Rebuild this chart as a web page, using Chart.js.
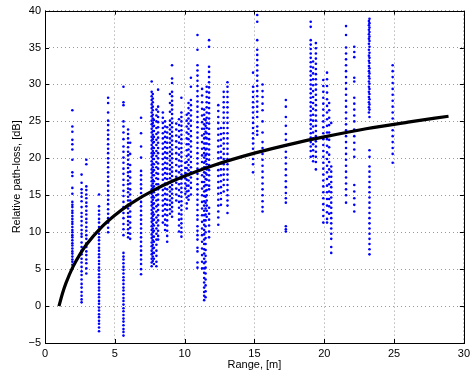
<!DOCTYPE html>
<html>
<head>
<meta charset="utf-8">
<script src="https://cdn.jsdelivr.net/npm/chart.js@4"></script>
<style>
  body { margin: 0; background: #fff; }
  canvas { display: block; }
</style>
</head>
<body>
<canvas id="lossChart" width="474" height="372"></canvas>
<script>
// measurement columns: range [m] of each column and the path-loss values [dB] read in it
const colRange = [1.96, 2.62, 2.96, 3.87, 4.52, 5.62, 5.95, 6.1, 6.88, 7.64,
    7.8, 8.1, 8.44, 8.75, 9.1, 9.4, 9.77, 10.05, 10.28, 10.45,
    10.92, 11.4, 11.58, 11.75, 12.41, 12.8, 13.07, 14.9, 15.2, 15.58,
    17.25, 19.03, 19.4, 19.93, 20.2, 20.5, 21.56, 22.15, 23.24, 24.9,
    7.72, 7.98, 8.6, 8.95, 9.6, 10.15, 11.25, 11.5, 12.6, 19.2,
    23.2, 20.35];

const colLoss = [
    [26.5, 24.3, 23.6, 22.5, 21.9, 21.2, 19.8, 18.1, 17.6, 16.0, 15.2, 14.1, 13.7, 13.4, 12.9, 12.6, 12.2, 11.8, 11.4, 11.1, 10.7, 10.3, 10.0, 9.6, 9.3, 8.9, 8.5, 8.2, 7.8, 7.4, 7.1, 6.7, 6.3, 6.0, 5.6, 5.1],
    [17.8, 16.7, 15.8, 15.3, 14.8, 14.2, 13.4, 12.6, 12.1, 11.5, 10.9, 10.3, 9.8, 9.4, 8.6, 8.0, 7.5, 7.0, 6.4, 5.9, 5.3, 4.7, 4.2, 3.6, 3.0, 2.5, 1.9, 1.4, 0.9, 0.5],
    [19.8, 19.2, 16.2, 15.7, 15.1, 14.6, 14.0, 13.5, 12.9, 12.4, 11.8, 11.3, 10.7, 10.2, 9.6, 9.1, 8.5, 8.0, 7.4, 6.9, 6.3, 5.8, 5.1, 4.4],
    [15.1, 13.5, 12.9, 12.4, 11.8, 11.3, 10.7, 10.2, 9.8, 9.3, 8.9, 8.4, 7.9, 7.5, 7.0, 6.6, 6.1, 5.7, 5.2, 4.8, 4.3, 3.9, 3.4, 3.0, 2.5, 2.1, 1.6, 1.2, 0.7, 0.3, -0.2, -0.6, -1.1, -1.5, -2.0, -2.4, -2.9, -3.4],
    [28.2, 27.5, 26.2, 25.1, 24.5, 23.8, 23.2, 22.6, 21.9, 21.3, 20.7, 20.0, 19.4, 18.8, 18.1, 17.5, 16.9, 16.3, 15.6, 15.0, 14.4, 13.8, 13.1, 12.5, 11.9, 11.3, 10.6, 10.0],
    [29.7, 27.6, 27.2, 25.0, 24.3, 23.5, 22.6, 21.6, 20.9, 20.1, 19.4, 18.6, 17.9, 17.1, 16.4, 15.6, 14.9, 14.1, 13.4, 12.6, 11.9, 11.1, 10.4, 9.6, 7.2, 6.7, 6.3, 5.8, 5.3, 4.9, 4.4, 3.9, 3.5, 3.0, 2.5, 2.1, 1.6, 1.1, 0.7, 0.2, -0.3, -0.7, -1.2, -1.7, -2.1, -2.6, -3.1, -3.5, -4.0],
    [23.9, 23.3, 22.7, 22.1, 21.5, 20.9, 20.4, 19.8, 19.2, 18.7, 18.1, 17.6, 17.0, 16.5, 15.9, 15.4, 14.8, 14.3, 13.7, 13.2, 12.6, 12.1, 11.5, 11.0, 10.4, 9.9, 9.3],
    [22.1, 20.6, 19.1, 18.2, 17.4, 16.6, 15.8, 15.1, 14.3, 13.6, 12.8, 12.1, 11.3, 10.6, 9.8, 9.1],
    [25.5, 23.4, 21.6, 20.1, 18.3, 17.7, 17.1, 16.5, 15.9, 15.3, 14.7, 14.1, 13.5, 12.9, 12.3, 11.7, 11.1, 10.5, 9.9, 9.3, 8.7, 8.1, 7.5, 6.9, 6.3, 5.7, 5.0, 4.3],
    [30.4, 29.0, 28.4, 27.9, 27.3, 26.8, 26.2, 25.7, 25.1, 24.6, 24.0, 23.5, 22.9, 22.4, 21.8, 21.3, 20.7, 20.2, 19.6, 19.1, 18.5, 18.0, 17.4, 16.9, 16.3, 15.8, 15.2, 14.7, 14.1, 13.6, 13.0, 12.5, 11.9, 11.4, 10.8, 10.3, 9.7, 9.2, 8.6, 8.1, 7.5, 7.0, 6.4, 5.9, 5.4],
    [25.2, 24.4, 23.7, 22.9, 22.2, 21.4, 20.7, 19.9, 19.2, 18.4, 17.7, 16.9, 16.2, 15.4, 14.7, 13.9, 13.2, 12.4, 11.7, 10.9, 10.2, 9.4, 8.7, 7.9, 7.2, 6.4, 5.7],
    [29.3, 27.0, 26.3, 25.6, 24.9, 24.2, 23.5, 22.8, 22.1, 21.4, 20.7, 20.0, 19.3, 18.6, 17.9, 17.2, 16.5, 15.8, 15.1, 14.4, 13.7, 13.0, 12.3, 11.6, 10.9, 10.2, 9.5, 9.0],
    [26.2, 25.5, 24.8, 24.1, 23.4, 22.7, 22.0, 21.3, 20.6, 19.9, 19.2, 18.5, 17.8, 17.1, 16.4, 15.7, 15.0, 14.3, 13.6, 12.9, 12.2, 11.3],
    [24.2, 23.5, 22.8, 22.1, 21.4, 20.7, 20.0, 19.3, 18.6, 17.9, 17.2, 16.5, 15.8, 15.1, 14.4, 13.7, 13.0, 12.3, 11.6, 10.9, 10.2, 9.5, 8.7],
    [32.6, 30.8, 30.2, 29.0, 28.4, 27.8, 27.2, 26.6, 26.0, 25.4, 24.8, 24.2, 23.6, 23.0, 22.4, 21.8, 21.2, 20.6, 20.0, 19.4, 18.8, 18.2, 17.6, 17.0, 16.4, 15.8, 15.2, 14.6, 14.0, 13.4, 12.8, 12.1],
    [24.7, 23.9, 23.1, 22.3, 21.5, 20.7, 19.9, 19.1, 18.3, 17.5, 16.7, 15.9, 15.1, 14.3],
    [28.2, 26.2, 25.6, 25.0, 24.4, 23.8, 23.2, 22.6, 22.0, 21.4, 20.8, 20.2, 19.6, 19.0, 18.4, 17.8, 17.2, 16.6, 16.0, 15.4, 14.8, 14.2, 13.6, 13.0, 12.4, 11.8, 11.2, 10.6, 10.0, 9.4],
    [19.4, 18.7, 18.0, 17.3, 16.6, 15.9, 15.2],
    [27.5, 26.8, 26.1, 25.4, 24.7, 24.0, 23.3, 22.6, 21.9, 21.2, 20.5, 19.8, 19.1, 18.4, 17.7, 17.0, 16.3, 15.6, 14.9, 14.4],
    [30.9, 29.7, 27.9, 27.2, 26.5, 25.8, 25.1, 24.4, 23.7, 23.0, 22.3, 21.6, 20.9, 20.2, 19.5, 18.8, 18.1, 17.4, 16.7, 16.0, 15.1],
    [36.7, 34.7, 32.6, 31.9, 31.2, 30.5, 29.8, 29.1, 28.4, 27.7, 27.0, 26.3, 25.6, 24.9, 24.2, 23.5, 22.8, 22.1, 21.4, 20.7, 20.0, 19.3, 18.6, 17.9, 17.2, 16.5, 15.8, 15.1, 14.4, 13.7, 13.0, 12.3, 11.7, 10.8, 10.2, 9.6, 9.0, 7.9, 7.4, 5.9, 5.2],
    [26.6, 25.9, 25.3, 24.6, 24.0, 23.3, 22.7, 22.0, 21.4, 20.7, 20.1, 19.4, 18.8, 18.1, 17.5, 16.8, 16.2, 15.5, 14.9, 14.2, 13.6, 12.9, 12.3, 11.6, 11.0, 10.3, 9.7, 9.0, 8.4, 7.7, 7.1, 6.4, 5.8, 5.1, 4.5, 3.8, 3.2, 2.5, 1.9, 1.4, 0.8],
    [29.7, 29.0, 28.3, 27.6, 26.9, 26.2, 25.5, 24.8, 24.1, 23.4, 22.7, 22.0, 21.3, 20.6, 19.9, 19.2, 18.5, 17.8, 17.1, 16.4, 15.7, 15.0, 14.3, 13.6, 12.9, 12.1],
    [36.0, 35.1, 32.4, 31.7, 31.0, 30.3, 29.6, 28.9, 28.2, 27.5, 26.8, 26.1, 25.4, 24.7, 24.0, 23.3, 22.6, 21.9, 21.2, 20.5, 19.8, 19.1, 18.4, 17.7, 17.0, 16.3, 15.8, 13.3, 12.5, 11.7, 10.9, 10.1, 9.3],
    [27.2, 26.4, 25.6, 24.8, 24.0, 23.2, 22.4, 21.6, 20.8, 20.0, 19.2, 18.4, 17.6, 16.8, 16.0, 15.2, 14.4, 13.6, 12.8, 12.0, 11.0],
    [29.0, 28.3, 27.6, 26.9, 26.2, 25.5, 24.8, 24.1, 23.4, 22.7, 22.0, 21.3, 20.6, 19.9, 19.2, 18.5, 17.8, 17.1, 16.4, 15.5],
    [30.3, 29.7, 29.0, 28.3, 27.6, 26.9, 26.2, 25.5, 24.8, 24.1, 23.4, 22.7, 22.0, 21.3, 20.6, 19.9, 19.2, 18.5, 17.8, 17.1, 16.4, 15.7, 15.0, 14.3, 13.6, 12.6],
    [31.6, 29.7, 29.0, 28.3, 27.6, 26.9, 26.2, 25.5, 24.8, 24.1, 23.4, 22.7, 22.0, 21.3, 20.6, 19.9, 19.2, 18.1],
    [39.4, 38.5, 36.0, 34.7, 34.0, 33.3, 32.6, 31.9, 31.2, 30.5, 29.8, 29.1, 28.4, 27.7, 27.0, 26.3, 25.6, 24.3, 23.7, 23.2],
    [30.0, 29.1, 28.3, 27.4, 26.5, 25.0, 23.5, 22.2, 21.4, 20.6, 19.8, 19.0, 18.2, 17.4, 16.6, 15.8, 15.0, 14.2, 13.4, 12.8],
    [27.9, 27.0, 25.6, 24.4, 23.3, 22.5, 21.7, 20.9, 20.1, 19.3, 18.5, 17.7, 16.9, 16.1, 15.3, 14.6, 14.0, 10.8, 10.4, 10.1],
    [38.5, 37.8, 36.0, 35.4, 34.8, 34.2, 33.6, 33.0, 32.4, 31.8, 31.2, 30.6, 30.0, 29.4, 28.8, 28.2, 27.6, 27.0, 26.4, 25.8, 25.2, 24.6, 24.0, 23.4, 22.8, 22.2, 21.6, 21.0, 20.2],
    [35.6, 34.9, 34.2, 33.5, 32.8, 32.1, 31.4, 30.7, 30.0, 29.3, 28.6, 27.9, 27.2, 26.5, 25.8, 25.1, 24.4, 23.7, 23.0, 22.3, 21.6, 20.9, 20.2, 19.5, 18.5],
    [30.6, 29.8, 29.0, 28.2, 27.4, 26.6, 25.8, 25.0, 24.2, 23.4, 22.6, 21.8, 21.0, 20.2, 19.4, 18.6, 17.8, 17.0, 16.2, 15.4, 14.6, 13.8, 13.0, 12.2, 11.3],
    [31.6, 30.7, 29.8, 28.9, 28.0, 27.1, 26.2, 25.3, 24.4, 23.5, 22.6, 21.7, 20.8, 19.9, 19.0, 18.1, 17.2, 16.3, 15.4, 14.5, 13.6, 12.7, 11.8, 11.3],
    [24.8, 18.9, 18.2, 17.5, 16.8, 16.1, 15.4, 14.7, 14.0, 13.3, 12.6, 11.9, 11.2, 10.5, 9.8, 9.1, 8.0, 7.2],
    [37.9, 36.7, 35.0, 34.2, 33.4, 32.6, 31.8, 31.0, 30.2, 29.4, 28.6, 27.8, 27.0, 26.2, 25.4, 24.6, 23.8, 23.0, 22.2, 21.4, 20.6, 19.8, 19.0, 18.2, 17.4, 16.6, 15.8, 15.0, 14.0],
    [35.1, 34.4, 33.7, 30.9, 30.4, 28.2, 27.4, 26.6, 25.8, 25.0, 23.9, 23.0, 22.1, 21.2, 20.2, 16.4, 15.5, 14.6, 13.7, 12.8],
    [38.9, 38.3, 37.7, 37.1, 36.5, 35.9, 35.1, 34.3, 33.6, 32.9, 32.2, 31.5, 30.8, 30.1, 29.4, 28.7, 28.0, 27.3, 26.6, 25.6, 21.1, 20.2, 18.9, 18.2, 17.5, 16.8, 16.1, 15.4, 14.7, 14.0, 13.3, 12.6, 11.9, 11.2, 10.5, 9.8, 9.1, 8.4, 7.7, 7.0],
    [32.6, 31.8, 31.0, 30.2, 29.4, 28.6, 27.8, 27.0, 26.2, 25.4, 24.6, 23.8, 23.0, 22.2, 21.4, 20.6, 19.4],
    [28.7, 28.1, 27.6, 27.0, 26.5, 25.9, 25.4, 24.8, 24.3, 23.7, 23.2, 22.6, 22.1, 21.5, 21.0, 20.4, 19.9, 19.3, 18.8, 18.2, 17.7, 17.1, 16.6, 16.0, 15.5, 14.9, 14.4, 13.8, 13.3, 12.7, 12.2, 11.6, 11.1, 10.5, 10.0, 9.4, 8.9, 8.3, 7.8, 7.2, 6.7, 6.1],
    [26.6, 25.8, 25.0, 24.1, 23.3, 22.5, 21.8, 21.0, 20.3, 19.5, 18.8, 18.0, 17.3, 16.5, 15.8, 15.0, 14.3, 13.5, 12.8, 12.0, 11.3, 10.5, 9.8, 9.0, 8.3, 7.5, 6.8, 6.0, 5.4],
    [25.0, 24.3, 23.6, 22.9, 22.2, 21.5, 20.8, 20.1, 19.4, 18.7, 18.0, 17.3, 16.6, 15.9, 15.2, 14.5, 13.8, 13.1, 12.4, 11.7, 11.0, 10.3],
    [28.7, 27.5, 26.3, 25.1, 24.5, 23.9, 23.3, 22.7, 22.1, 21.5, 20.9, 20.3, 19.7, 19.1, 18.5, 17.9, 17.3, 16.7, 16.1, 15.5, 14.9, 14.3, 13.7, 13.1, 12.5],
    [25.3, 24.5, 23.7, 22.9, 22.1, 21.3, 20.5, 19.7, 18.9, 18.1, 17.3, 16.5, 15.7, 14.9, 14.1, 13.3, 12.5, 11.7, 10.9, 10.1],
    [25.9, 25.1, 24.3, 23.5, 22.7, 21.9, 21.1, 20.3, 19.5, 18.7, 17.9, 17.1, 16.3, 15.5, 14.7, 13.9, 13.2],
    [29.4, 28.5, 27.6, 26.7, 25.8, 24.9, 24.0, 23.1, 22.2, 21.3, 20.4, 19.5, 18.6, 17.7, 16.8, 15.9, 15.0, 14.1, 13.2, 12.3, 11.4, 10.5, 9.6, 8.7, 7.8, 6.9, 6.0, 5.1],
    [25.2, 24.4, 23.6, 22.8, 22.0, 21.2, 20.4, 19.6, 18.8, 18.0, 17.2, 16.4, 15.6, 14.8, 14.0, 13.2, 12.4, 11.6, 10.8, 10.0, 9.2, 8.4, 7.6, 6.8, 6.0, 5.2, 4.4, 3.6, 2.8, 2.0, 1.2],
    [24.1, 23.3, 22.5, 21.7, 20.9, 20.1, 19.3, 18.5, 17.7, 16.9, 16.1, 15.3, 14.5, 13.7],
    [33.1, 32.3, 31.5, 30.7, 29.9, 29.1, 28.3, 27.5, 26.7, 25.9, 25.1, 24.3, 23.5, 22.7, 21.9, 21.1, 20.3, 19.6],
    [38.6, 38.0, 37.4, 36.8, 36.2, 35.5, 34.7, 33.9, 33.2, 32.5, 31.8, 31.1, 30.4, 29.7, 29.0, 28.3, 27.6, 26.9, 26.2],
    [27.5, 26.5, 25.5, 24.5, 23.5, 22.5, 21.5, 20.5, 19.5, 18.5, 17.5, 16.5, 15.5, 14.5, 13.5, 12.5]
];

// fitted curve
const fitRange = [1, 1.25, 1.5, 2, 2.5, 3, 4, 5, 6, 8, 10, 12, 15, 18, 20, 23, 26, 28.9];
const fitLoss = [0, 1.7, 3.1, 5.3, 7.0, 8.4, 10.6, 12.3, 13.7, 15.9, 17.6, 19.0, 20.7, 22.1, 22.9, 24.0, 24.9, 25.7];

const xTicks = [0, 5, 10, 15, 20, 25, 30];
const yTicks = [-5, 0, 5, 10, 15, 20, 25, 30, 35, 40];

const measured = [];
colRange.forEach((r, i) => {
    colLoss[i].forEach(v => measured.push({ x: r, y: v }));
});
const fitted = fitRange.map((r, i) => ({ x: r, y: fitLoss[i] }));

// box round the plot with small inward ticks, like the original
const framePlugin = {
    id: 'frame',
    afterDraw(chart) {
        const ctx = chart.ctx;
        const a = chart.chartArea;
        const xs = chart.scales.x, ys = chart.scales.y;
        ctx.save();
        ctx.strokeStyle = '#000';
        ctx.lineWidth = 1;
        ctx.beginPath();
        xTicks.forEach(t => {
            const px = Math.round(xs.getPixelForValue(t)) + 0.5;
            ctx.moveTo(px, a.bottom); ctx.lineTo(px, a.bottom - 4);
            ctx.moveTo(px, a.top); ctx.lineTo(px, a.top + 4);
        });
        yTicks.forEach(t => {
            const py = Math.round(ys.getPixelForValue(t)) + 0.5;
            ctx.moveTo(a.left, py); ctx.lineTo(a.left + 4, py);
            ctx.moveTo(a.right, py); ctx.lineTo(a.right - 4, py);
        });
        ctx.stroke();
        ctx.strokeRect(Math.round(a.left) + 0.5, Math.round(a.top) + 0.5,
            Math.round(a.right - a.left), Math.round(a.bottom - a.top));
        ctx.restore();
    }
};

const font = { family: '"Liberation Sans", Arial, Helvetica, sans-serif', size: 11 };

new Chart(document.getElementById('lossChart').getContext('2d'), {
    type: 'scatter',
    data: {
        datasets: [{
            label: 'Fit',
            data: fitted,
            showLine: true,
            borderColor: '#000',
            borderWidth: 3.2,
            pointRadius: 0,
            cubicInterpolationMode: 'monotone',
            order: 0
        }, {
            label: 'Measured',
            data: measured,
            backgroundColor: '#0000ff',
            borderWidth: 0,
            pointRadius: 1.3,
            order: 1
        }]
    },
    plugins: [framePlugin],
    options: {
        responsive: false,
        animation: false,
        layout: { padding: { top: 10, right: 6, left: 0, bottom: 0 } },
        plugins: { legend: { display: false }, tooltip: { enabled: false } },
        scales: {
            x: {
                type: 'linear',
                min: 0,
                max: 30,
                afterBuildTicks: s => { s.ticks = xTicks.map(v => ({ value: v })); },
                afterFit: s => { s.height = 29; },
                grid: { color: '#999', drawTicks: false },
                border: { display: false, dash: [1, 3] },
                ticks: { color: '#000', font: font, padding: 4, maxRotation: 0 },
                title: { display: true, text: 'Range, [m]', color: '#000', font: font, padding: { top: 0, bottom: 0 } }
            },
            y: {
                min: -5,
                max: 40,
                afterBuildTicks: s => { s.ticks = yTicks.map(v => ({ value: v })); },
                afterFit: s => { s.width = 45; },
                grid: { color: '#999', drawTicks: false },
                border: { display: false, dash: [1, 3] },
                ticks: {
                    color: '#000', font: font, padding: 4,
                    callback: v => String(v).replace('-', '\u2212')
                },
                title: { display: true, text: 'Relative path-loss, [dB]', color: '#000', font: font, padding: { top: 10, bottom: 0 } }
            }
        }
    }
});
</script>
</body>
</html>
